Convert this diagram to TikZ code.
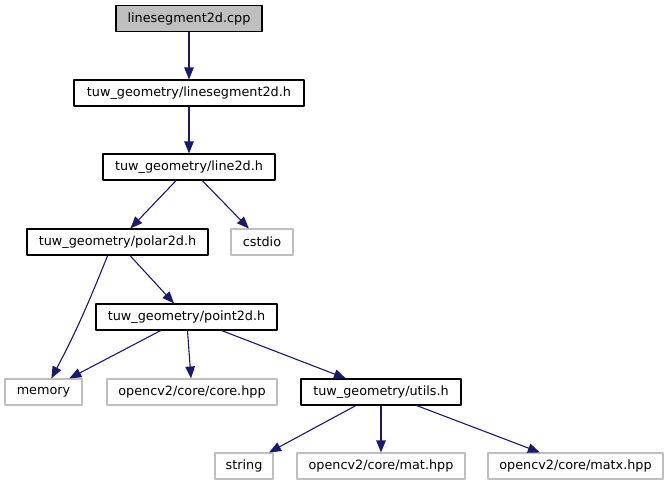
\documentclass[tikz,border=0pt]{standalone}
\usepackage{fontspec}
\setmainfont{DejaVu Sans}
\usetikzlibrary{arrows.meta}
\definecolor{edgeblue}{HTML}{191970}
\definecolor{greyline}{HTML}{BFBFBF}
\begin{document}
\begin{tikzpicture}[x=1pt,y=-1pt,>={Triangle[length=12pt,width=9.5pt]}, font=\fontsize{12.8}{15}\selectfont, line join=round,
	file/.style={draw=black,fill=white,line width=1.1pt,minimum height=26pt,inner sep=0pt},
	sysfile/.style={file,draw=greyline},
	dep/.style={->,draw=edgeblue,line width=1.1pt}]
			\useasboundingbox (0,0) rectangle (669,485);
			% hàng 1, 2, 3
			\node[file,fill=greyline,minimum width=146pt] (cpp) at (189,18.5) {linesegment2d.cpp};
			\node[file,minimum width=230pt] (lseg) at (189,93) {tuw\_geometry/linesegment2d.h};
			\node[file,minimum width=172pt] (line) at (189,167) {tuw\_geometry/line2d.h};
			% hàng 4
			\node[file,minimum width=181pt] (polar) at (117.5,242) {tuw\_geometry/polar2d.h};
			\node[sysfile,minimum width=62pt] (cstdio) at (262,242) {cstdio};
			% hàng 5, 6
			\node[file,minimum width=181pt] (point) at (186.5,317) {tuw\_geometry/point2d.h};
			\node[sysfile,minimum width=77pt] (memory) at (43.5,392) {memory};
			\node[sysfile,minimum width=170pt] (core) at (192,392) {opencv2/core/core.hpp};
			\node[file,minimum width=160pt] (utils) at (381,392) {tuw\_geometry/utils.h};
			% hàng 7
			\node[sysfile,minimum width=58pt] (string) at (244,466) {string};
			\node[sysfile,minimum width=168pt] (mat) at (381,466) {opencv2/core/mat.hpp};
			\node[sysfile,minimum width=175pt] (matx) at (575.5,466) {opencv2/core/matx.hpp};
			\foreach \a/\b in {cpp/lseg,lseg/line,line/polar,line/cstdio,polar/point,point/memory,point/core,point/utils,utils/string,utils/mat,utils/matx}
				\draw[dep] (\a) -- (\b);
			\draw[dep] (polar.234) to[out=-112,in=62] (memory.60);
	\end{tikzpicture}
\end{document}
